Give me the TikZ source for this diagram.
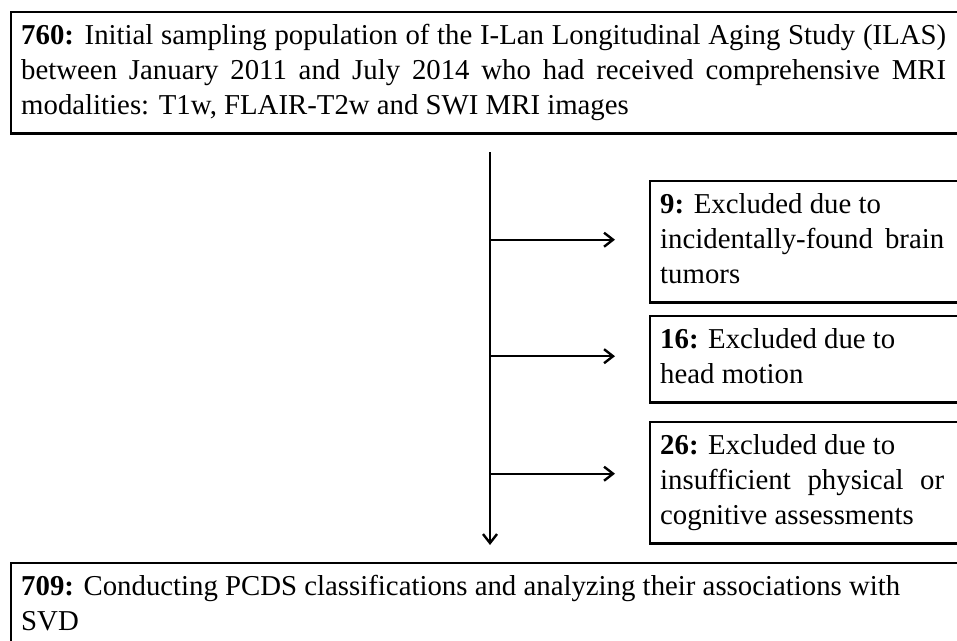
\documentclass[tikz,border=0pt]{standalone}
\usepackage{fontspec}
\setmainfont{Liberation Serif}
\usetikzlibrary{arrows.meta}
\hyphenpenalty=10000
\exhyphenpenalty=10000

\newcommand{\cnt}[1]{\textbf{#1:}}
\tikzset{
	stagebox/.style={anchor=north west, inner xsep=10pt, inner ysep=8pt, align=justify,
		font=\fontsize{28.8}{35}\selectfont},
	frame/.style={line width=2.6pt},
	flow/.style={line width=2.4pt, -{Straight Barb[length=9pt,width=14pt]}},
}

\begin{document}
\begin{tikzpicture}[x=1pt, y=-1pt]
		%%%%% canvas %%%%%
		\useasboundingbox (0, 0) rectangle (957, 640);
		\clip (0, 0) rectangle (957, 640);
		\coordinate (edge) at (990, 0);
		
		%%%%% stages %%%%%
		\node[stagebox, text width=925pt] (head) at (11, 12)
			{\strut\cnt{760} Initial sampling population of the I-Lan Longitudinal Aging Study (ILAS) between January 2011 and July 2014 who had received comprehensive MRI modalities: T1w, FLAIR-T2w and SWI MRI images\strut};
		
		\node[stagebox, text width=284pt] (ex1) at (650, 181)
			{\strut\cnt{9} Excluded due to\newline incidentally-found brain tumors\strut};
		\node[stagebox, text width=284pt] (ex2) at (650, 316)
			{\strut\cnt{16} Excluded due to\newline head motion\strut};
		\node[stagebox, text width=284pt] (ex3) at (650, 422)
			{\strut\cnt{26} Excluded due to\newline insufficient physical or cognitive assessments\strut};
		
		\node[stagebox, text width=900pt] (result) at (11, 563)
			{\strut\cnt{709} Conducting PCDS classifications and analyzing their associations with\newline SVD\strut};
		
		% frames run off the right edge
		\foreach \stage in {head, ex1, ex2, ex3, result}
			\draw[frame] (\stage.north west) rectangle (\stage.south -| edge);
		
		%%%%% flow %%%%%
		\coordinate (trunk) at (490, 152);
		\draw[flow, shorten >=18pt] (trunk) -- (trunk |- result.north);
		\draw[flow, shorten >=35pt] ([yshift=2pt]trunk |- ex1.west) -- ([yshift=2pt]ex1.west);
		\draw[flow, shorten >=35pt] ([yshift=3pt]trunk |- ex2.west) -- ([yshift=3pt]ex2.west);
		\draw[flow, shorten >=35pt] ([yshift=9pt]trunk |- ex3.west) -- ([yshift=9pt]ex3.west);
		
\end{tikzpicture}
\end{document}
